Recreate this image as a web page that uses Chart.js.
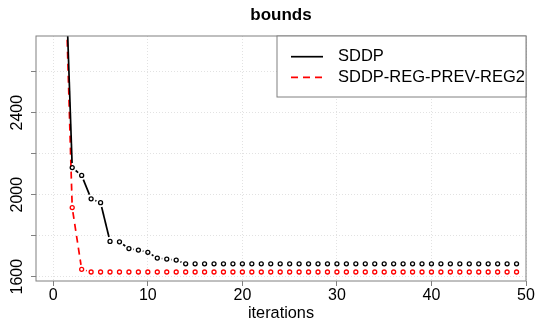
<!DOCTYPE html>
<html>
<head>
<meta charset="utf-8">
<script src="https://cdn.jsdelivr.net/npm/chart.js@4.4.0/dist/chart.umd.min.js"></script>
<style>
  html, body { margin: 0; padding: 0; background: #fff; }
  #wrap { width: 535px; height: 319px; }
</style>
</head>
<body>
<div id="wrap"><canvas id="bounds"></canvas></div>
<script>
const iterations = [1, 2, 3, 4, 5, 6, 7, 8, 9, 10, 11, 12, 13, 14, 15, 16, 17, 18, 19, 20,
    21, 22, 23, 24, 25, 26, 27, 28, 29, 30, 31, 32, 33, 34, 35, 36, 37, 38, 39, 40,
    41, 42, 43, 44, 45, 46, 47, 48, 49];
const sddp = [3480, 2132, 2094, 1980, 1961, 1772, 1770, 1737, 1730, 1719, 1691, 1686, 1681, 1663, 1663, 1663, 1663, 1663, 1663, 1663,
    1663, 1663, 1663, 1663, 1663, 1663, 1663, 1663, 1663, 1663, 1663, 1663, 1663, 1663, 1663, 1663, 1663, 1663, 1663, 1663,
    1663, 1663, 1663, 1663, 1663, 1663, 1663, 1663, 1663];
const sddpRegPrevReg2 = [3480, 1937, 1636, 1623, 1623, 1623, 1623, 1623, 1623, 1623, 1623, 1623, 1623, 1623, 1623, 1623, 1623, 1623, 1623, 1623,
    1623, 1623, 1623, 1623, 1623, 1623, 1623, 1623, 1623, 1623, 1623, 1623, 1623, 1623, 1623, 1623, 1623, 1623, 1623, 1623,
    1623, 1623, 1623, 1623, 1623, 1623, 1623, 1623, 1623];
const seriesNames = ["SDDP", "SDDP-REG-PREV-REG2"];
const xTicks = [0, 10, 20, 30, 40, 50];
const yTicks = [1600, 1800, 2000, 2200, 2400, 2600];
const yLabelled = [1600, 2000, 2400];

Chart.defaults.font.family = '"Liberation Sans", Arial, Helvetica, sans-serif';

// R type="b": segments stop short of the points
const GAP = 4.5;
function segLen(ctx) {
    return Math.hypot(ctx.p1.x - ctx.p0.x, ctx.p1.y - ctx.p0.y);
}
function gapDash(len, on, off) {
    const inner = len - 2 * GAP;
    if (inner <= 0) return [];
    const arr = [0, GAP];
    let left = inner;
    while (left > 0) {
        const d = Math.min(on, left);
        arr.push(d);
        left -= d;
        const s = Math.min(off, left);
        left -= s;
        arr.push(left > 0 ? s : s + GAP);
    }
    return arr;
}
function typeB(color, on, off) {
    return {
        borderColor: ctx => segLen(ctx) > 2 * GAP + 0.5 ? color : 'transparent',
        borderDash: ctx => gapDash(segLen(ctx), on, off),
    };
}

const frameAndLegend = {
    id: 'frameAndLegend',
    afterDraw(chart) {
        const {ctx, chartArea} = chart;
        ctx.save();
        ctx.strokeStyle = '#808080';
        ctx.lineWidth = 1;
        ctx.strokeRect(chartArea.left, chartArea.top, chartArea.right - chartArea.left, chartArea.bottom - chartArea.top);

        const w = 249, h = 61;
        const x0 = chartArea.right - w, y0 = chartArea.top;
        ctx.fillStyle = '#fff';
        ctx.fillRect(x0, y0, w, h);
        ctx.strokeRect(x0, y0, w, h);
        const rows = [
            {name: seriesNames[0], color: '#000', dash: []},
            {name: seriesNames[1], color: '#ff0000', dash: [7, 5]},
        ];
        ctx.font = '16.5px "Liberation Sans", Arial, sans-serif';
        ctx.textBaseline = 'middle';
        rows.forEach((r, i) => {
            const y = y0 + 20.7 + i * 20.6;
            ctx.strokeStyle = r.color;
            ctx.lineWidth = 1.7;
            ctx.setLineDash(r.dash);
            ctx.beginPath();
            ctx.moveTo(x0 + 14, y);
            ctx.lineTo(x0 + 46, y);
            ctx.stroke();
            ctx.fillStyle = '#000';
            ctx.fillText(r.name, x0 + 61, y);
        });
        ctx.restore();
    }
};

new Chart(document.getElementById("bounds"), {
    type: 'line',
    data: {
        labels: iterations,
        datasets: [
            {
                label: seriesNames[0],
                data: iterations.map((x, i) => ({x: x, y: sddp[i]})),
                borderColor: '#000',
                borderWidth: 1.7,
                pointRadius: 2,
                pointBorderWidth: 1.3,
                pointBorderColor: '#000',
                pointBackgroundColor: 'transparent',
                segment: typeB('#000', Infinity, 0),
            },
            {
                label: seriesNames[1],
                data: iterations.map((x, i) => ({x: x, y: sddpRegPrevReg2[i]})),
                borderColor: '#ff0000',
                borderWidth: 1.7,
                pointRadius: 2,
                pointBorderWidth: 1.3,
                pointBorderColor: '#ff0000',
                pointBackgroundColor: 'transparent',
                segment: typeB('#ff0000', 7, 5),
            },
        ],
    },
    options: {
        responsive: true,
        maintainAspectRatio: false,
        animation: false,
        layout: {
            padding: {left: 0, right: 9, top: 0, bottom: 0},
        },
        plugins: {
            legend: {
                display: false,
            },
            tooltip: {
                enabled: false,
            },
            title: {
                display: true,
                text: 'bounds',
                fullSize: false,
                color: '#000',
                font: {size: 17, weight: 'bold', lineHeight: 1.2},
                padding: {top: 5, bottom: 10.6},
            },
        },
        scales: {
            x: {
                type: 'linear',
                min: -1.83,
                max: 50,
                afterBuildTicks: s => { s.ticks = xTicks.map(v => ({value: v})); },
                afterFit: s => { s.height = 38; },
                ticks: {
                    color: '#000',
                    font: {size: 16},
                    padding: 0,
                    maxRotation: 0,
                    autoSkip: false,
                },
                grid: {
                    color: '#e2e2e2',
                    tickColor: '#808080',
                    tickLength: 5,
                },
                border: {
                    display: false,
                    dash: [1, 2],
                },
                title: {
                    display: true,
                    text: 'iterations',
                    color: '#000',
                    font: {size: 16.3},
                    padding: {top: 0, bottom: -4},
                },
            },
            y: {
                min: 1579,
                max: 2774,
                afterBuildTicks: s => { s.ticks = yTicks.map(v => ({value: v})); },
                afterFit: s => { s.width = 36; },
                ticks: {
                    color: '#000',
                    font: {size: 16},
                    minRotation: 90,
                    maxRotation: 90,
                    crossAlign: 'center',
                    padding: -4.8,
                    callback: v => yLabelled.includes(v) ? String(v) : '',
                },
                grid: {
                    color: '#e2e2e2',
                    tickColor: '#808080',
                    tickLength: 5,
                },
                border: {
                    display: false,
                    dash: [1, 2],
                },
            },
        },
    },
    plugins: [frameAndLegend],
});
</script>
</body>
</html>
